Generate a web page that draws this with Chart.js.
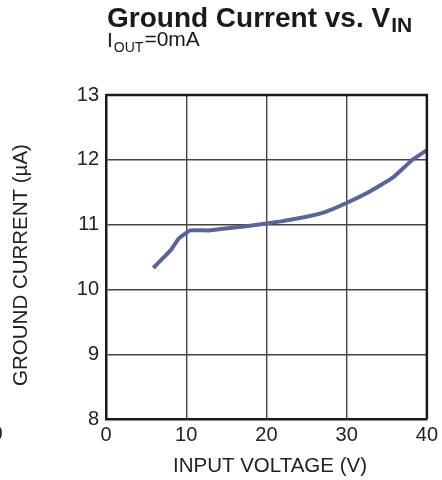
<!DOCTYPE html>
<html>
<head>
<meta charset="utf-8">
<script src="https://cdn.jsdelivr.net/npm/chart.js@4"></script>
<style>
html,body{margin:0;padding:0;background:#fff;}
canvas{display:block;}
</style>
</head>
<body>
<canvas id="c" width="442" height="480"></canvas>
<script>
// Data
const inputVoltage = [5.9, 7.0, 8.1, 9.1, 10.5, 12.8, 14.9, 17.7, 21.8, 24.5, 27.2, 29.9, 33.0, 35.8, 38.2, 40.0];
const groundCurrent = [10.33, 10.47, 10.61, 10.79, 10.91, 10.91, 10.94, 10.98, 11.05, 11.11, 11.19, 11.33, 11.52, 11.73, 12.0, 12.15];
const xTicks = [0, 10, 20, 30, 40];
const yTicks = [8, 9, 10, 11, 12, 13];
const titleMain = "Ground Current vs. V";
const titleSub = "IN";
const subtitleA = "I";
const subtitleSub = "OUT";
const subtitleB = "=0mA";
const xTitle = "INPUT VOLTAGE (V)";
const yTitle = "GROUND CURRENT (\u00B5A)";

const FONT = "'Liberation Sans', Arial, sans-serif";

const decor = {
  id: 'decor',
  afterDraw(chart) {
    const ctx = chart.ctx;
    const a = chart.chartArea;
    ctx.save();
    // frame top/right
    ctx.strokeStyle = '#1a1a1a';
    ctx.lineWidth = 2.5;
    ctx.beginPath();
    ctx.moveTo(a.left, a.top);
    ctx.lineTo(a.right, a.top);
    ctx.lineTo(a.right, a.bottom);
    ctx.stroke();
    // title
    ctx.fillStyle = '#1a1a1a';
    ctx.textBaseline = 'alphabetic';
    ctx.textAlign = 'left';
    ctx.font = "bold 28px " + FONT;
    ctx.fillText(titleMain, 107, 27);
    let w = ctx.measureText(titleMain).width;
    ctx.font = "bold 21px " + FONT;
    ctx.fillText(titleSub, 107 + w + 1, 32);
    // subtitle
    ctx.font = "21px " + FONT;
    ctx.fillText(subtitleA, 107, 47);
    let w2 = ctx.measureText(subtitleA).width;
    ctx.font = "14px " + FONT;
    ctx.fillText(subtitleSub, 107 + w2 + 1, 52);
    let w3 = ctx.measureText(subtitleSub).width;
    ctx.font = "21px " + FONT;
    ctx.fillText(subtitleB, 107 + w2 + 2 + w3, 46);
    // axis titles
    ctx.fillStyle = '#222';
    ctx.textAlign = 'center';
    ctx.textBaseline = 'middle';
    ctx.font = "20.5px " + FONT;
    ctx.fillText(xTitle, 270, 466);
    ctx.save();
    ctx.translate(21, 265);
    ctx.rotate(-Math.PI / 2);
    ctx.fillText(yTitle, 0, 0);
    ctx.restore();
    // partial tick label of neighbouring chart at left edge
    ctx.font = "20px " + FONT;
    ctx.fillText("0", -3, 434);
    ctx.restore();
  }
};

new Chart(document.getElementById('c'), {
  type: 'line',
  data: {
    datasets: [{
      data: inputVoltage.map((x, i) => ({x: x, y: groundCurrent[i]})),
      borderColor: '#5b6499',
      borderWidth: 4,
      pointRadius: 0,
      tension: 0.1,
      fill: false
    }]
  },
  options: {
    responsive: false,
    animation: false,
    devicePixelRatio: 1,
    layout: {padding: {top: 95, right: 11, left: 0, bottom: 0}},
    plugins: {legend: {display: false}, tooltip: {enabled: false}, title: {display: false}},
    scales: {
      x: {
        type: 'linear', min: 0, max: 40,
        afterBuildTicks: s => { s.ticks = xTicks.map(v => ({value: v})); },
        afterFit: s => { s.height = 61; },
        ticks: {color: '#222', font: {family: FONT, size: 20}, padding: 4, maxRotation: 0},
        grid: {color: '#444', lineWidth: 1.4, drawTicks: false},
        border: {color: '#1a1a1a', width: 2.5},
        title: {display: false}
      },
      y: {
        type: 'linear', min: 8, max: 13,
        afterBuildTicks: s => { s.ticks = yTicks.map(v => ({value: v})); },
        afterFit: s => { s.width = 106; },
        ticks: {color: '#222', font: {family: FONT, size: 20}, padding: 7},
        grid: {color: '#444', lineWidth: 1.4, drawTicks: false},
        border: {color: '#1a1a1a', width: 2.5},
        title: {display: false}
      }
    }
  },
  plugins: [decor]
});
</script>
</body>
</html>
